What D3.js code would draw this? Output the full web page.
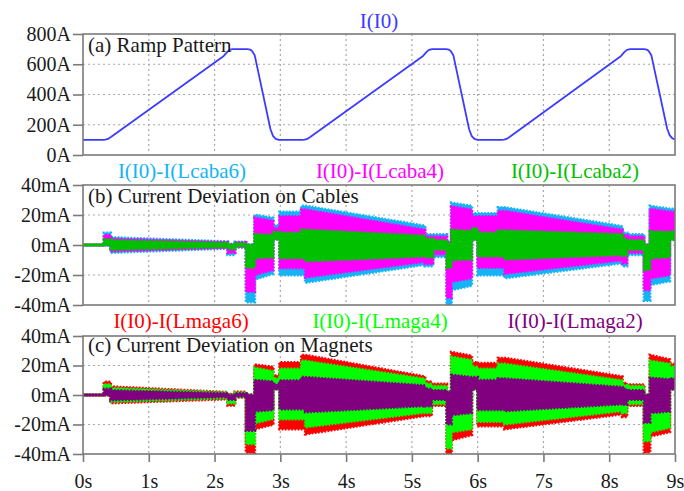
<!DOCTYPE html>
<html><head><meta charset="utf-8">
<script src="https://cdn.jsdelivr.net/npm/d3@7"></script>
<style>body{margin:0;background:#fff}svg{display:block}</style>
</head><body><svg id="c" width="684" height="491"></svg>
<script>
// ---- data ----
const timeTicks = [0,1,2,3,4,5,6,7,8,9];
const timeTickLabels = ["0s","1s","2s","3s","4s","5s","6s","7s","8s","9s"];
const rampTicks = [0,200,400,600,800];
const rampTickLabels = ["0A","200A","400A","600A","800A"];
const devTicks = [-40,-20,0,20,40];
const devTickLabels = ["-40mA","-20mA","0mA","20mA","40mA"];

// I(I0) ramp [t(s), A]
const rampI0 = [[0,100],[0.30,100],[0.34,101],[0.38,106],[0.43,120],[2.14,655],[2.19,680],[2.23,695],[2.27,700],[2.50,700],[2.54,697],[2.57,688],[2.61,660],[2.85,170],[2.89,125],[2.93,106],[2.98,100],
[3.33,100],[3.37,101],[3.41,106],[3.46,120],[5.17,655],[5.22,680],[5.26,695],[5.31,700],[5.52,700],[5.56,697],[5.59,688],[5.63,660],[5.87,170],[5.91,125],[5.95,106],[6.00,100],
[6.36,100],[6.40,101],[6.44,106],[6.49,120],[8.18,655],[8.23,680],[8.27,695],[8.32,700],[8.53,700],[8.57,697],[8.60,688],[8.64,660],[8.88,175],[8.92,130],[8.96,110],[9.0,103]];

// envelopes [t(s), low mA, high mA]
const devLcaba6 = [[0,0,0],[0.32,0,0],[0.32,0,8],[0.42,0,8],[0.42,-5,5],[2.2,-2.2,2.2],[2.2,-6.5,0.5],[2.31,-6.5,0.5],[2.31,-1.5,2],[2.48,-1.5,2],[2.48,-38,0],[2.61,-38,0],[2.61,-23,20],[2.89,-19,18],[2.89,4,13],[2.99,4,13],[2.99,-20,22],[3.32,-20,22],[3.32,-20,26],[3.38,-20,26],[3.38,-25,26],[5.2,-13,12.7],[5.2,-14,7],[5.32,-14,7],[5.32,-7.8,7],[5.53,-7.8,7],[5.53,-40,2],[5.6,-40,2],[5.6,-30,28],[5.91,-27,26],[5.91,4,21],[6.0,4,21],[6.0,-20,21],[6.31,-20,21],[6.31,-20,25],[6.41,-20,25],[6.41,-22,25],[8.2,-12,12.4],[8.2,-14,8],[8.27,-14,8],[8.27,-6.5,7],[8.53,-6.5,7],[8.53,-37,0],[8.62,-37,0],[8.62,-26.5,26],[8.92,-24,24],[8.92,4,24],[9,4,24]];
const devLcaba4 = [[0,0,0],[0.32,0,0],[0.32,0,6.5],[0.42,0,6.5],[0.42,-4,4],[2.2,-1.7,1.7],[2.2,-5,0.3],[2.31,-5,0.3],[2.31,-1.2,1.6],[2.48,-1.2,1.6],[2.48,-31,0],[2.61,-31,0],[2.61,-19.8,18],[2.89,-16.5,16],[2.89,4,11],[2.99,4,11],[2.99,-15.3,19],[3.32,-15.3,19],[3.32,-15.3,23.5],[3.38,-15.3,23.5],[3.38,-21.5,23.5],[5.2,-11,10],[5.2,-12.5,5.5],[5.32,-12.5,5.5],[5.32,-6,5.5],[5.53,-6,5.5],[5.53,-35,2],[5.6,-35,2],[5.6,-24.4,25.5],[5.91,-22,23.5],[5.91,4,19],[6.0,4,19],[6.0,-15,19],[6.31,-15,19],[6.31,-15,22.5],[6.41,-15,22.5],[6.41,-19,22.5],[8.2,-10,10],[8.2,-12,6.5],[8.27,-12,6.5],[8.27,-5,5.5],[8.53,-5,5.5],[8.53,-30,0],[8.62,-30,0],[8.62,-22,24],[8.92,-20,22],[8.92,4,22],[9,4,22]];
const devLcaba2 = [[0,0,0],[0.32,0,0],[0.32,0,3.5],[0.42,0,3.5],[0.42,-3,3],[2.2,-1.2,1.2],[2.2,-2.5,0],[2.31,-2.5,0],[2.31,-0.8,1],[2.48,-0.8,1],[2.48,-15,0],[2.61,-15,0],[2.61,-8.7,7],[2.89,-8,6.5],[2.89,4,8.5],[2.99,4,8.5],[2.99,-8.7,8],[3.32,-8.7,8],[3.32,-8.7,10],[3.38,-8.7,10],[3.38,-10.7,10],[5.2,-7.5,6],[5.2,-8,4],[5.32,-8,4],[5.32,-3,3],[5.53,-3,3],[5.53,-15,1],[5.6,-15,1],[5.6,-10,10],[5.91,-9.5,9],[5.91,3.5,11],[6.0,3.5,11],[6.0,-7.5,8],[6.31,-7.5,8],[6.31,-7.5,9.5],[6.41,-7.5,9.5],[6.41,-9.5,9.5],[8.2,-6.5,7],[8.2,-7,4],[8.27,-7,4],[8.27,-3,3],[8.53,-3,3],[8.53,-16.5,0],[8.62,-16.5,0],[8.62,-8.7,9],[8.92,-8,8.5],[8.92,3.5,9],[9,3.5,9]];

const devLmaga6 = [[0,0,0],[0.32,0,0],[0.32,0,8.8],[0.42,0,8.8],[0.42,-5.4,5.6],[2.2,-2.7,1.8],[2.2,-7,0.5],[2.31,-7,0.5],[2.31,-1.5,2],[2.48,-1.5,2],[2.48,-39,0],[2.61,-39,0],[2.61,-23,20.5],[2.89,-20,19],[2.89,4,13],[2.99,4,13],[2.99,-23,22],[3.32,-23,22],[3.32,-23,27],[3.38,-23,27],[3.38,-26.5,27],[5.2,-14,12.4],[5.2,-14,9],[5.3,-14,9],[5.3,-7.2,7.5],[5.53,-7.2,7.5],[5.53,-40,2],[5.6,-40,2],[5.6,-30.5,29],[5.91,-27,26.5],[5.91,4,22],[6.0,4,22],[6.0,-21,21.5],[6.31,-21,21.5],[6.31,-21,25],[6.41,-21,25],[6.41,-23,25],[8.2,-12.9,12.4],[8.2,-14.7,8],[8.27,-14.7,8],[8.27,-7.2,7],[8.53,-7.2,7],[8.53,-38.8,0],[8.62,-38.8,0],[8.62,-28,27],[8.92,-25,24],[8.92,4,21],[9,4,21]];
const devLmaga4 = [[0,0,0],[0.32,0,0],[0.32,0,7],[0.42,0,7],[0.42,-4.5,4.5],[2.2,-2,1.5],[2.2,-5.5,0.3],[2.31,-5.5,0.3],[2.31,-1.2,1.6],[2.48,-1.2,1.6],[2.48,-33,0],[2.61,-33,0],[2.61,-19,18.3],[2.89,-16,16],[2.89,4,11],[2.99,4,11],[2.99,-16.3,17.6],[3.32,-16.3,17.6],[3.32,-16.3,23],[3.38,-16.3,23],[3.38,-21.7,23],[5.2,-11.8,10.8],[5.2,-12,7.5],[5.3,-12,7.5],[5.3,-6,6],[5.53,-6,6],[5.53,-36,2],[5.6,-36,2],[5.6,-25,25.7],[5.91,-23,23.5],[5.91,4,19],[6.0,4,19],[6.0,-18,17.6],[6.31,-18,17.6],[6.31,-18,21],[6.41,-18,21],[6.41,-19.7,21],[8.2,-10.7,9.7],[8.2,-12,6.5],[8.27,-12,6.5],[8.27,-6,6],[8.53,-6,6],[8.53,-31,0],[8.62,-31,0],[8.62,-25,23],[8.92,-22,21],[8.92,4,19],[9,4,19]];
const devLmaga2 = [[0,0,0],[0.32,0,0],[0.32,0,4],[0.42,0,4],[0.42,-3.4,3],[2.2,-1.2,1],[2.2,-3,0],[2.31,-3,0],[2.31,-0.8,1],[2.48,-0.8,1],[2.48,-24,0],[2.61,-24,0],[2.61,-11,10],[2.89,-10,9],[2.89,4,7],[2.99,4,7],[2.99,-9.5,9.7],[3.32,-9.5,9.7],[3.32,-9.5,12],[3.38,-9.5,12],[3.38,-11.5,12],[5.2,-7.3,6.3],[5.2,-7.5,4],[5.3,-7.5,4],[5.3,-3,3],[5.53,-3,3],[5.53,-19.7,2],[5.6,-19.7,2],[5.6,-13.5,13.5],[5.91,-12,12],[5.91,4,12],[6.0,4,12],[6.0,-10,10],[6.31,-10,10],[6.31,-10,11],[6.41,-10,11],[6.41,-10.7,11],[8.2,-6.1,5.2],[8.2,-6.5,4],[8.27,-6.5,4],[8.27,-3,3],[8.53,-3,3],[8.53,-18.5,0],[8.62,-18.5,0],[8.62,-12,11.5],[8.92,-11,10.5],[8.92,4,11],[9,4,11]];

// ---- drawing ----
const svg = d3.select("#c");
const FONT = "'Liberation Serif','Times New Roman',serif";
const X0 = 83, X1 = 675;
const x = d3.scaleLinear().domain([0,9]).range([X0,X1]);
const frameCol = "#7a7a7a", gridCol = "#a8a8a8";

const panels = [
  {top:34, bot:155, dom:[0,800], ticks:rampTicks, labels:rampTickLabels, title:"(a) Ramp Pattern", titleY:52},
  {top:185, bot:305, dom:[-40,40], ticks:devTicks, labels:devTickLabels, title:"(b) Current Deviation on Cables", titleY:203},
  {top:336, bot:454, dom:[-40,40], ticks:devTicks, labels:devTickLabels, title:"(c) Current Deviation on Magnets", titleY:352}
];
panels.forEach((p,i)=>{
  p.y = d3.scaleLinear().domain(p.dom).range([p.bot,p.top]);
  const g = svg.append("g");
  p.g = g;
  svg.append("clipPath").attr("id","clip"+i).append("rect")
    .attr("x",X0).attr("y",p.top).attr("width",X1-X0).attr("height",p.bot-p.top);
  g.selectAll(".vg").data(timeTicks.slice(1,-1)).join("line")
    .attr("x1",d=>x(d)).attr("x2",d=>x(d)).attr("y1",p.top).attr("y2",p.bot)
    .attr("stroke",gridCol).attr("stroke-width",1.2).attr("stroke-dasharray","2,3");
  g.selectAll(".hg").data(p.ticks.slice(1,-1)).join("line")
    .attr("x1",X0).attr("x2",X1).attr("y1",d=>p.y(d)).attr("y2",d=>p.y(d))
    .attr("stroke",gridCol).attr("stroke-width",1.2).attr("stroke-dasharray","2,3");
  p.data = g.append("g").attr("clip-path","url(#clip"+i+")");
});

panels[0].data.append("path").datum(rampI0)
  .attr("d", d3.line().x(d=>x(d[0])).y(d=>panels[0].y(d[1])))
  .attr("fill","none").attr("stroke","#3c3cff").attr("stroke-width",1.8)
  .attr("stroke-linejoin","round");

function band(p, data, color){
  const area = d3.area().x(d=>x(d[0])).y0(d=>p.y(d[1])).y1(d=>p.y(d[2]));
  p.data.append("path").datum(data).attr("d",area)
    .attr("fill",color).attr("stroke",color).attr("stroke-width",1);
  p.data.append("path").datum(data).attr("d",area)
    .attr("fill","none").attr("stroke",color).attr("stroke-width",3)
    .attr("stroke-dasharray","1.7,1.5");
}
band(panels[1], devLcaba6, "#14b4f5");
band(panels[1], devLcaba4, "#ff00ff");
band(panels[1], devLcaba2, "#00c000");
band(panels[2], devLmaga6, "#ff0000");
band(panels[2], devLmaga4, "#00ff00");
band(panels[2], devLmaga2, "#800080");

panels.forEach((p,i)=>{
  svg.append("rect").attr("x",X0).attr("y",p.top).attr("width",X1-X0).attr("height",p.bot-p.top)
    .attr("fill","none").attr("stroke",frameCol).attr("stroke-width",1.6);
  const ax = svg.append("g").attr("transform",`translate(${X0},0)`)
    .call(d3.axisLeft(p.y).tickValues(p.ticks).tickSize(10).tickPadding(2)
      .tickFormat((d,k)=>p.labels[k]));
  ax.select(".domain").remove();
  ax.selectAll("line").attr("stroke",frameCol).attr("stroke-width",1.6);
  ax.selectAll("text").attr("font-family",FONT).attr("font-size",20).attr("fill","#1a1a1a");
  svg.append("text").attr("x",88).attr("y",p.titleY).text(p.title)
    .attr("font-family",FONT).attr("font-size",21).attr("fill","#1a1a1a");
});

const xa = svg.append("g").attr("transform",`translate(0,${panels[2].bot})`)
  .call(d3.axisBottom(x).tickValues(timeTicks).tickSize(8).tickPadding(12)
    .tickFormat((d,k)=>timeTickLabels[k]));
xa.select(".domain").remove();
xa.selectAll("line").attr("stroke",frameCol).attr("stroke-width",1.6);
xa.selectAll("text").attr("font-family",FONT).attr("font-size",20).attr("fill","#1a1a1a");

const legends = [
  {t:"I(I0)", x:379, y:28, c:"#3c3cff"},
  {t:"I(I0)-I(Lcaba6)", x:182, y:178, c:"#14b4f5"},
  {t:"I(I0)-I(Lcaba4)", x:380, y:178, c:"#ff00ff"},
  {t:"I(I0)-I(Lcaba2)", x:575, y:178, c:"#00c000"},
  {t:"I(I0)-I(Lmaga6)", x:181, y:328, c:"#ff0000"},
  {t:"I(I0)-I(Lmaga4)", x:380, y:328, c:"#00ff00"},
  {t:"I(I0)-I(Lmaga2)", x:575, y:328, c:"#800080"}
];
svg.selectAll(".lg").data(legends).join("text")
  .attr("x",d=>d.x).attr("y",d=>d.y).attr("text-anchor","middle").text(d=>d.t)
  .attr("fill",d=>d.c).attr("font-family",FONT).attr("font-size",21);
</script></body></html>
